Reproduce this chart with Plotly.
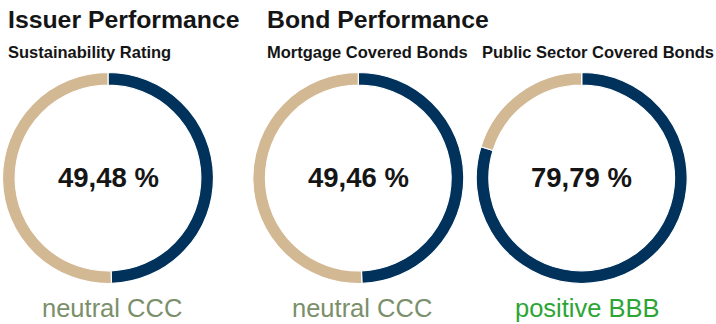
import plotly.graph_objects as go

# ---- data ----
group_titles = ["Issuer Performance", "Bond Performance"]
chart_titles = ["Sustainability Rating", "Mortgage Covered Bonds", "Public Sector Covered Bonds"]
scores = [49.48, 49.46, 79.79]
center_labels = ["49,48 %", "49,46 %", "79,79 %"]
rating_labels = ["neutral CCC", "neutral CCC", "positive BBB"]
rating_colors = ["#7b8f6b", "#7b8f6b", "#2ca534"]

W, H = 716, 324
NAVY = "#00325b"
TAN = "#d3b894"
FONT = "Liberation Sans, Arial, sans-serif"

centers_x = [108, 358.3, 581.7]
center_y = 178
radius = 105.5

fig = go.Figure()
for i, s in enumerate(scores):
    cx = centers_x[i]
    fig.add_trace(go.Pie(
        values=[s, 100 - s],
        labels=["score", "rest"],
        sort=False,
        direction="clockwise",
        rotation=0,
        hole=0.88,
        marker=dict(colors=[NAVY, TAN], line=dict(color="white", width=1.2)),
        textinfo="none",
        hoverinfo="skip",
        showlegend=False,
        domain=dict(
            x=[(cx - radius) / W, (cx + radius) / W],
            y=[(H - center_y - radius) / H, (H - center_y + radius) / H],
        ),
    ))

ann = []
def px(x):
    return x / W
def py(y):
    return 1 - y / H

ann.append(dict(text="<b>%s</b>" % group_titles[0], x=px(6), y=py(19), xanchor="left", yanchor="middle",
                font=dict(size=24.8, color="#151515", family=FONT)))
ann.append(dict(text="<b>%s</b>" % group_titles[1], x=px(264.5), y=py(19), xanchor="left", yanchor="middle",
                font=dict(size=24.8, color="#151515", family=FONT)))
sub_x = [6, 264.5, 479.5]
for i, t in enumerate(chart_titles):
    ann.append(dict(text="<b>%s</b>" % t, x=px(sub_x[i]), y=py(52), xanchor="left", yanchor="middle",
                    font=dict(size=16.5, color="#151515", family=FONT)))
label_shift = [4, 4, 6]
for i in range(3):
    ann.append(dict(text="<b>%s</b>" % center_labels[i], x=px(centers_x[i]), y=py(177), xanchor="center",
                    yanchor="middle", font=dict(size=27.5, color="#151515", family=FONT)))
    ann.append(dict(text=rating_labels[i], x=px(centers_x[i] + label_shift[i]), y=py(308), xanchor="center",
                    yanchor="middle", font=dict(size=25.5, color=rating_colors[i], family=FONT)))
for a in ann:
    a.update(xref="paper", yref="paper", showarrow=False)

fig.update_layout(
    width=W, height=H,
    margin=dict(l=0, r=0, t=0, b=0),
    paper_bgcolor="white", plot_bgcolor="white",
    annotations=ann,
)
fig.write_html("out.html", config={"displayModeBar": False})
